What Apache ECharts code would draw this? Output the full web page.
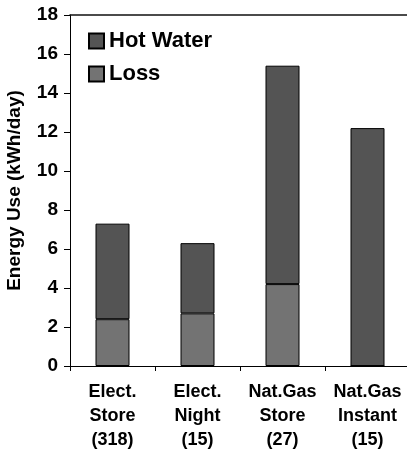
<!DOCTYPE html>
<html>
<head>
<meta charset="utf-8">
<script src="https://cdn.jsdelivr.net/npm/echarts@6/dist/echarts.min.js"></script>
<style>
html,body{margin:0;padding:0;background:#fff;}
#c{width:407px;height:455px;}
</style>
</head>
<body>
<div id="c"></div>
<script>
var categories = ['Elect.\nStore\n(318)', 'Elect.\nNight\n(15)', 'Nat.Gas\nStore\n(27)', 'Nat.Gas\nInstant\n(15)'];
var lossValues = [2.4, 2.7, 4.2, 0];
var hotWaterValues = [4.9, 3.6, 11.2, 12.2];
var yTicks = {min: 0, max: 18, interval: 2};

var FONT = 'Liberation Sans, Arial, sans-serif';
var chart = echarts.init(document.getElementById('c'), null, {renderer: 'canvas'});
chart.setOption({
  animation: false,
  backgroundColor: '#fff',
  grid: {left: 70, top: 15, width: 340, height: 351, containLabel: false, outerBoundsMode: 'none'},
  legend: {
    orient: 'vertical', left: 83, top: 25, itemWidth: 15, itemHeight: 15, itemGap: 11,
    icon: 'rect',
    data: ['Hot Water', 'Loss'],
    textStyle: {fontFamily: FONT, fontWeight: 'bold', fontSize: 22, lineHeight: 21, color: '#000', padding: [0, 0, 0, 0]}
  },
  xAxis: [{
    type: 'category', data: categories, position: 'bottom',
    axisLine: {lineStyle: {color: '#000', width: 1}},
    axisTick: {show: true, length: 5, alignWithLabel: false, lineStyle: {color: '#000'}},
    axisLabel: {interval: 0, fontFamily: FONT, fontWeight: 'bold', fontSize: 18, lineHeight: 24, color: '#000', margin: 14}
  }, {
    type: 'category', data: categories, position: 'top',
    axisLine: {show: true, lineStyle: {color: '#111', width: 1.5}},
    axisTick: {show: false}, axisLabel: {show: false}
  }],
  yAxis: {
    type: 'value', min: yTicks.min, max: yTicks.max, interval: yTicks.interval,
    name: 'Energy Use (kWh/day)', nameLocation: 'middle', nameGap: 46,
    nameTextStyle: {fontFamily: FONT, fontWeight: 'bold', fontSize: 19, color: '#000'},
    axisLine: {show: true, lineStyle: {color: '#000', width: 1}},
    axisTick: {show: true, length: 6, lineStyle: {color: '#000'}},
    splitLine: {show: false},
    axisLabel: {fontFamily: FONT, fontWeight: 'bold', fontSize: 19, color: '#000', margin: 12}
  },
  series: [{
    name: 'Loss', type: 'bar', stack: 'e', data: lossValues, barWidth: 34,
    itemStyle: {color: '#737373', borderColor: '#000', borderWidth: 1}
  }, {
    name: 'Hot Water', type: 'bar', stack: 'e', data: hotWaterValues, barWidth: 34,
    itemStyle: {color: '#545454', borderColor: '#000', borderWidth: 1}
  }]
});
</script>
</body>
</html>
